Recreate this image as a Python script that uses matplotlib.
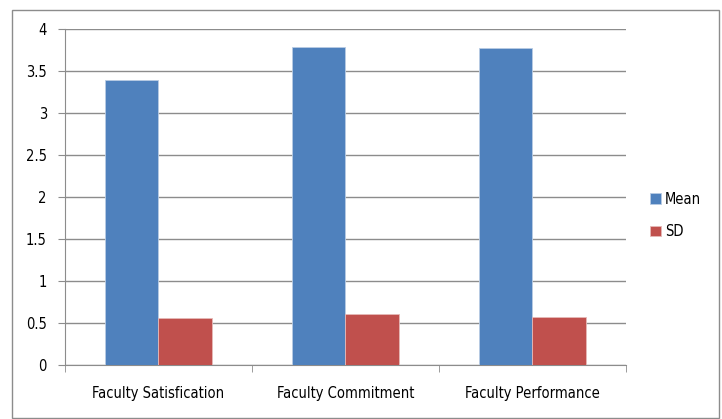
import numpy as np
import matplotlib.pyplot as plt
from matplotlib.patches import Rectangle

# Data
categories = ['Faculty Satisfication', 'Faculty Commitment', 'Faculty Performance']
mean_vals = [3.39, 3.79, 3.77]
sd_vals = [0.56, 0.61, 0.57]
yticks = [0, 0.5, 1, 1.5, 2, 2.5, 3, 3.5, 4]
ytick_labels = ['0', '0.5', '1', '1.5', '2', '2.5', '3', '3.5', '4']

plt.rcParams['font.family'] = ['DejaVu Sans']
plt.rcParams['font.stretch'] = 'condensed'

fig = plt.figure(figsize=(7.22, 4.19), dpi=100)
ax = fig.add_axes([0.09, 0.129, 0.777, 0.802])

x = np.arange(len(categories))
w = 0.284
ax.bar(x - w / 2, mean_vals, w, color='#4F81BD', edgecolor='#b8cce4', linewidth=0.6, label='Mean', zorder=3)
ax.bar(x + w / 2, sd_vals, w, color='#C0504D', edgecolor='#e6b9b8', linewidth=0.6, label='SD', zorder=3)

ax.set_xlim(-0.5, 2.5)
ax.set_ylim(0, 4)
ax.set_yticks(yticks)
ax.set_yticklabels(ytick_labels, fontsize=10.5)
ax.yaxis.grid(True, color='#8c8c8c', linewidth=1.0, zorder=0)

ax.set_xticks(x)
ax.set_xticklabels(categories, fontsize=10.5)
ax.tick_params(axis='x', length=0, pad=15)
ax.set_xticks([-0.5, 0.5, 1.5, 2.5], minor=True)
ax.tick_params(axis='x', which='minor', length=5, color='#8c8c8c', direction='out')
ax.tick_params(axis='y', length=5, color='#8c8c8c', direction='out', pad=8)

for side in ['top', 'right']:
    ax.spines[side].set_visible(False)
for side in ['left', 'bottom']:
    ax.spines[side].set_color('#8c8c8c')

leg = ax.legend(loc='center left', bbox_to_anchor=(1.02, 0.445), frameon=False,
                fontsize=10.5, handlelength=0.7, handleheight=0.7, handletextpad=0.3,
                labelspacing=1.2)

# outer chart border
fig.patches.append(Rectangle((0.017, 0.003), 0.979, 0.974, transform=fig.transFigure,
                             fill=False, edgecolor='#8c8c8c', linewidth=1.0))

fig.savefig('out.png', dpi=100)
